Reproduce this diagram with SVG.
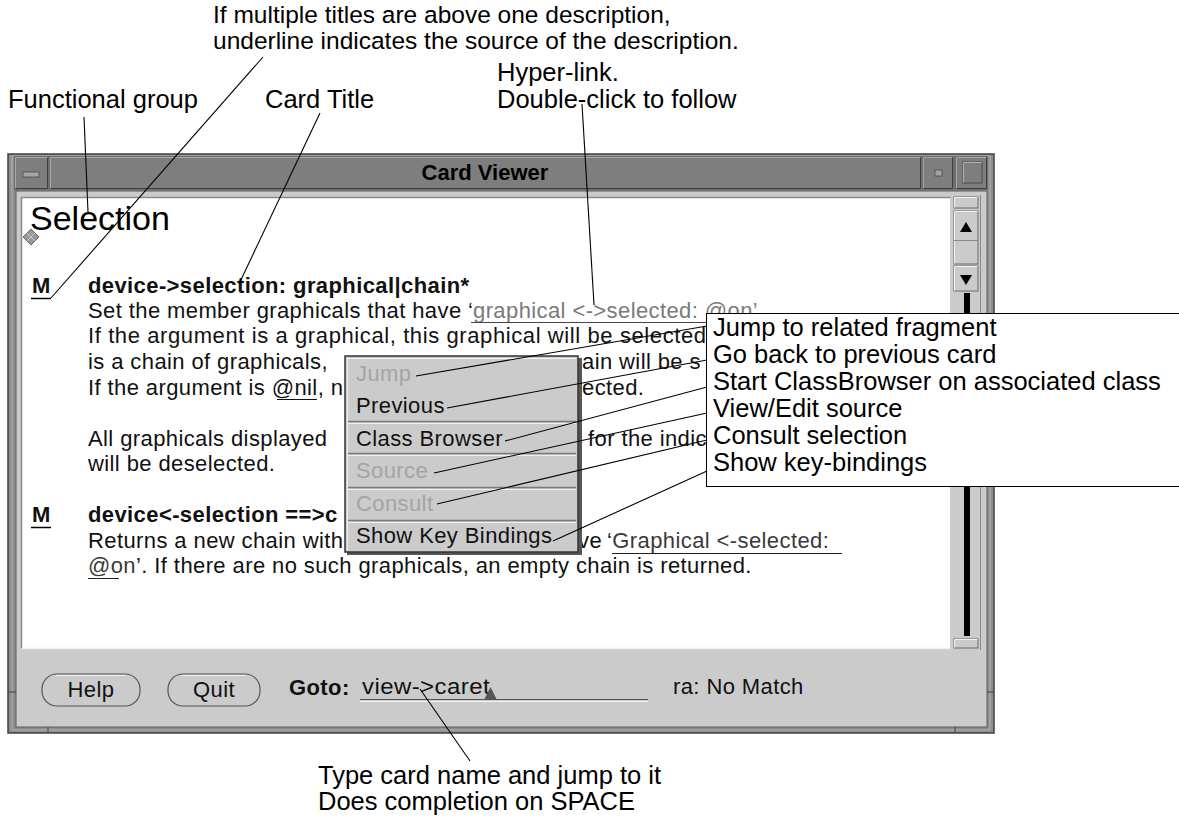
<svg xmlns="http://www.w3.org/2000/svg" width="1179" height="821" viewBox="0 0 1179 821">
<style>
.ann{font-family:"Liberation Sans",Arial,Helvetica,sans-serif;font-size:25.5px;fill:#000}
.ui{font-family:"Liberation Sans",Arial,Helvetica,sans-serif;font-size:22px;letter-spacing:0.4px;fill:#111}
.b{font-weight:bold}
.dim{fill:#a4a4a4}
.lnk1{fill:#7a7a7a}
.lnk2{fill:#3a3a3a}
.conn{stroke:#000;stroke-width:1.1;fill:none}
.bev{fill:#cbcbcb;stroke:#6a6a6a;stroke-width:1}
.hl{stroke:#f2f2f2;stroke-width:1;fill:none}
.sh{stroke:#5a5a5a;stroke-width:1;fill:none}
</style>
<rect width="1179" height="821" fill="#fff"/>

<g id="card-viewer-window">
  <rect x="8" y="154" width="986" height="579" fill="#8e8e8e" stroke="#404040" stroke-width="1.5"/>
  <rect x="12" y="156" width="978" height="574" fill="none" stroke="#b0b0b0" stroke-width="1"/>
  <!-- title bar -->
  <rect x="14" y="156" width="974" height="34" fill="#6e6e6e"/>
  <rect x="15" y="157" width="33" height="32" fill="#7e7e7e"/>
  <path d="M15.5,188.5 V157.5 H47.5" stroke="#a8a8a8" fill="none"/>
  <path d="M15.5,188.5 H47.5 V157.5" stroke="#3e3e3e" fill="none"/>
  <rect x="23" y="172" width="16" height="5" fill="#a5a5a5" stroke="#4a4a4a" stroke-width="0.8"/>
  <rect x="50" y="157" width="871" height="32" fill="#7e7e7e"/>
  <path d="M50.5,188.5 V157.5 H920.5" stroke="#a8a8a8" fill="none"/>
  <path d="M50.5,188.5 H920.5 V157.5" stroke="#3e3e3e" fill="none"/>
  <text x="485" y="180" text-anchor="middle" class="ui b" style="font-size:22px;fill:#000;letter-spacing:0">Card Viewer</text>
  <rect x="923" y="157" width="30" height="32" fill="#7e7e7e"/>
  <path d="M923.5,188.5 V157.5 H952.5" stroke="#a8a8a8" fill="none"/>
  <path d="M923.5,188.5 H952.5 V157.5" stroke="#3e3e3e" fill="none"/>
  <rect x="935" y="170" width="7" height="6" fill="#a5a5a5" stroke="#4a4a4a" stroke-width="0.8"/>
  <rect x="956" y="157" width="31" height="32" fill="#7e7e7e"/>
  <path d="M956.5,188.5 V157.5 H986.5" stroke="#a8a8a8" fill="none"/>
  <path d="M956.5,188.5 H986.5 V157.5" stroke="#3e3e3e" fill="none"/>
  <rect x="963" y="162" width="19" height="21" fill="#7e7e7e" stroke="#4a4a4a" stroke-width="1"/>
  <path d="M963.5,182.5 V162.5 H981.5" stroke="#b0b0b0" fill="none"/>
  <!-- client -->
  <rect x="16" y="191" width="971" height="536" fill="#cbcbcb" stroke="#5a5a5a" stroke-width="1"/>
  <rect x="22" y="198" width="928" height="450" fill="#fff"/>
  <path d="M21.5,648.5 V197.5 H950.5" stroke="#8a8a8a" stroke-width="1.5" fill="none"/>
  <path d="M21.5,648.5 H950.5" stroke="#efefef" stroke-width="1.5" fill="none"/>
  <!-- frame tick marks -->
  <path d="M48,727 V733 M955,727 V733 M987,692 H994 M8,692 H16" stroke="#404040" stroke-width="1"/>

  <!-- scrollbar -->
  <g id="scrollbar">
    <line x1="980.5" y1="195" x2="980.5" y2="650" stroke="#8a8a8a"/>
    <rect x="954" y="197" width="24" height="11" class="bev"/>
    <path class="hl" d="M954.5,207.5 V197.5 H977.5"/>
    <rect x="954" y="211" width="24" height="53" class="bev"/>
    <path class="hl" d="M954.5,263.5 V211.5 H977.5"/>
    <line x1="954" y1="240.5" x2="978" y2="240.5" stroke="#8a8a8a"/>
    <polygon points="960,232 972,232 966,222" fill="#000"/>
    <rect x="954" y="266" width="24" height="25" class="bev"/>
    <path class="hl" d="M954.5,290.5 V266.5 H977.5"/>
    <polygon points="960,275 972,275 966,285" fill="#000"/>
    <rect x="964" y="293" width="6" height="343" fill="#000"/>
    <rect x="954" y="639" width="24" height="9" class="bev"/>
    <path class="hl" d="M954.5,647.5 V639.5 H977.5"/>
  </g>

  <!-- content -->
  <g id="card-content">
    <text x="30" y="230" style="font-family:'Liberation Sans',Arial,sans-serif;font-size:34px;fill:#000">Selection</text>
    <polygon points="31,229 39,237 31,245 23,237" fill="#9a9a9a" stroke="#6a6a6a" stroke-width="1"/>
    <path d="M27,233 L35,241 M27,241 L35,233" stroke="#c8c8c8" stroke-width="1"/>

    <text x="32" y="293" class="ui b" style="letter-spacing:0">M</text>
    <line x1="31" y1="298.5" x2="51" y2="298.5" stroke="#000" stroke-width="1.5"/>
    <text x="88" y="293" class="ui b">device-&gt;selection: graphical|chain*</text>
    <text x="88" y="318" class="ui">Set the member graphicals that have ‘<tspan x="473" class="lnk1">graphical &lt;-&gt;selected: @on’</tspan></text>
    <line x1="471" y1="322.5" x2="706" y2="322.5" stroke="#444" stroke-width="1"/>
    <text x="88" y="343" class="ui" style="letter-spacing:0.6px">If the argument is a graphical, this graphical will be selected</text>
    <text x="88" y="369" class="ui">is a chain of graphicals,</text>
    <text x="582" y="369" class="ui">ain will be s</text>
    <text x="88" y="395" class="ui">If the argument is @nil, n</text>
    <line x1="277" y1="399.5" x2="317" y2="399.5" stroke="#111" stroke-width="1"/>
    <text x="582" y="395" class="ui">ected.</text>
    <text x="88" y="446" class="ui">All graphicals displayed</text>
    <text x="588" y="446" class="ui">for the indic</text>
    <text x="88" y="471" class="ui">will be deselected.</text>

    <text x="32" y="522" class="ui b" style="letter-spacing:0">M</text>
    <line x1="31" y1="527.5" x2="51" y2="527.5" stroke="#000" stroke-width="1.5"/>
    <text x="88" y="522" class="ui b">device&lt;-selection ==&gt;c</text>
    <text x="88" y="548" class="ui">Returns a new chain with</text>
    <text x="578" y="548" class="ui">ve</text>
    <text x="607" y="548" class="ui">‘<tspan class="lnk2">Graphical &lt;-selected:</tspan></text>
    <line x1="612" y1="553.5" x2="842" y2="553.5" stroke="#222" stroke-width="1"/>
    <text x="88" y="573" class="ui"><tspan class="lnk2">@on</tspan>’.  If there are no such graphicals, an empty chain is returned.</text>
    <line x1="88" y1="578.5" x2="119" y2="578.5" stroke="#222" stroke-width="1"/>
  </g>

  <!-- bottom dialog controls -->
  <g id="btn-help">
    <rect x="42" y="674" width="98" height="32" rx="15" fill="#cbcbcb" stroke="#555" stroke-width="1.2"/>
    <path d="M56,675.5 H126" stroke="#f0f0f0" stroke-width="1"/>
    <text x="91" y="697" text-anchor="middle" class="ui">Help</text>
  </g>
  <g id="btn-quit">
    <rect x="168" y="674" width="92" height="32" rx="15" fill="#cbcbcb" stroke="#555" stroke-width="1.2"/>
    <path d="M182,675.5 H246" stroke="#f0f0f0" stroke-width="1"/>
    <text x="214" y="697" text-anchor="middle" class="ui">Quit</text>
  </g>
  <g id="goto-field">
    <text x="289" y="695" class="ui b">Goto:</text>
    <text x="362" y="694" class="ui" textLength="128" lengthAdjust="spacingAndGlyphs">view-&gt;caret</text>
    <line x1="360" y1="699.5" x2="648" y2="699.5" stroke="#555" stroke-width="1.2"/>
    <line x1="360" y1="701.5" x2="648" y2="701.5" stroke="#f4f4f4" stroke-width="1.2"/>
    <polygon points="484,700 497,700 490.5,687" fill="#555"/>
    <text x="673" y="694" class="ui">ra: No Match</text>
  </g>
</g>

<g id="popup-menu">
  <rect x="347" y="358" width="235" height="197" fill="#555"/>
  <rect x="345" y="356" width="233" height="196" fill="#cbcbcb" stroke="#333" stroke-width="1.5"/>
  <path class="hl" d="M347.5,550 V358.5 H576"/>
  <path d="M348,421.5 H576 M348,453.5 H576 M348,487.5 H576 M348,520.5 H576" stroke="#7a7a7a" stroke-width="1.5"/>
  <path d="M348,423.5 H576 M348,455.5 H576 M348,489.5 H576 M348,522.5 H576" stroke="#f0f0f0" stroke-width="1"/>
  <text x="356" y="381" class="ui dim">Jump</text>
  <text x="356" y="413" class="ui">Previous</text>
  <text x="356" y="446" class="ui">Class Browser</text>
  <text x="356" y="478" class="ui dim">Source</text>
  <text x="356" y="511" class="ui dim">Consult</text>
  <text x="356" y="543" class="ui">Show Key Bindings</text>
</g>

<g id="menu-help-box">
  <rect x="706.5" y="313.5" width="480" height="173" fill="#fff" stroke="#000" stroke-width="1"/>
  <text x="713" y="336" class="ann">Jump to related fragment</text>
  <text x="713" y="363" class="ann">Go back to previous card</text>
  <text x="713" y="390" class="ann">Start ClassBrowser on associated class</text>
  <text x="713" y="417" class="ann">View/Edit source</text>
  <text x="713" y="444" class="ann">Consult selection</text>
  <text x="713" y="471" class="ann">Show key-bindings</text>
</g>

<g id="label-multiple-titles">
  <text x="213" y="23" class="ann" style="font-size:24.5px">If multiple titles are above one description,</text>
  <text x="213" y="49" class="ann" style="font-size:24.5px">underline indicates the source of the description.</text>
</g>
<g id="label-hyperlink">
  <text x="497" y="81" class="ann">Hyper-link.</text>
  <text x="497" y="108" class="ann">Double-click to follow</text>
</g>
<g id="label-functional-group">
  <text x="8" y="108" class="ann">Functional group</text>
</g>
<g id="label-card-title">
  <text x="265" y="108" class="ann">Card Title</text>
</g>
<g id="label-goto">
  <text x="318" y="784" class="ann">Type card name and jump to it</text>
  <text x="318" y="810" class="ann">Does completion on SPACE</text>
</g>

<g id="connectors">
  <line class="conn" x1="84" y1="117" x2="88" y2="212"/>
  <line class="conn" x1="263" y1="57" x2="51" y2="298"/>
  <line class="conn" x1="320" y1="113" x2="239" y2="284"/>
  <line class="conn" x1="582" y1="104" x2="594" y2="305"/>
  <line class="conn" x1="416" y1="376" x2="707" y2="326"/>
  <line class="conn" x1="447" y1="408" x2="707" y2="360"/>
  <line class="conn" x1="505" y1="441" x2="707" y2="387"/>
  <line class="conn" x1="434" y1="473" x2="707" y2="413"/>
  <line class="conn" x1="437" y1="504" x2="707" y2="440"/>
  <line class="conn" x1="553" y1="541" x2="707" y2="471"/>
  <line class="conn" x1="420" y1="689" x2="470" y2="761"/>
</g>
</svg>
